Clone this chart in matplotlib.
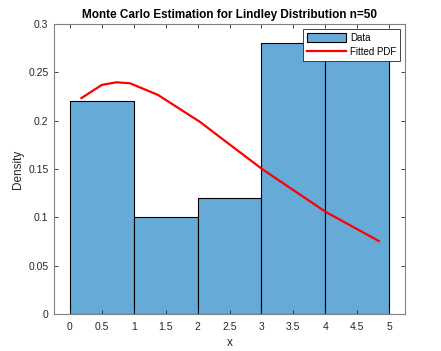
import matplotlib
matplotlib.use("Agg")
import matplotlib.pyplot as plt

bin_edges = [0, 1, 2, 3, 4, 5]
densities = [0.22, 0.10, 0.12, 0.28, 0.28]
pdf_x = [0.18, 0.50, 0.73, 0.94, 1.38, 2.04, 2.35, 3.01, 4.01, 4.84]
pdf_y = [0.2234, 0.237, 0.2397, 0.2387, 0.2266, 0.1986, 0.183, 0.150, 0.1055, 0.0755]
xticks = [0, 0.5, 1, 1.5, 2, 2.5, 3, 3.5, 4, 4.5, 5]
yticks = [0, 0.05, 0.1, 0.15, 0.2, 0.25, 0.3]

plt.rcParams['font.family'] = ['Liberation Sans', 'DejaVu Sans']

fig = plt.figure(figsize=(4.41, 3.51), dpi=100)
ax = fig.add_axes([54/441, 1-314/351, (405-54)/441, (314-24)/351])

widths = [bin_edges[i+1]-bin_edges[i] for i in range(len(densities))]
bars = ax.bar(bin_edges[:-1], densities, width=widths, align='edge',
              color=(0.4, 0.668, 0.845), edgecolor='black', linewidth=0.8, label='Data')
line, = ax.plot(pdf_x, pdf_y, color='red', linewidth=1.6, label='Fitted PDF')

ax.set_xlim(-0.25, 5.25)
ax.set_ylim(0, 0.3)
ax.set_xticks(xticks)
ax.set_xticklabels([f"{v:g}" for v in xticks])
ax.set_yticks(yticks)
ax.set_yticklabels([f"{v:g}" for v in yticks])
ax.tick_params(direction='in', length=3, width=0.6, labelsize=7.5, colors='#262626',
               top=True, right=True)
ax.tick_params(axis='x', pad=6)
ax.tick_params(axis='y', pad=4)
for s in ax.spines.values():
    s.set_color('#808080')
    s.set_linewidth(0.8)

ax.set_title('Monte Carlo Estimation for Lindley Distribution n=50', fontsize=8.5,
             fontweight='bold', pad=4)
ax.set_xlabel('x', fontsize=8.5, color='#262626', labelpad=3)
ax.set_ylabel('Density', fontsize=8.5, color='#262626', labelpad=3)

leg = ax.legend(handles=[bars, line], labels=['Data', 'Fitted PDF'],
                loc='upper right', fontsize=7, frameon=True, fancybox=False,
                edgecolor='#262626', framealpha=1, borderpad=0.4, handlelength=4.0,
                handleheight=1.0, handletextpad=0.4, labelspacing=0.4, borderaxespad=0.5)
leg.get_frame().set_linewidth(0.6)

fig.savefig('out.png', dpi=100)
